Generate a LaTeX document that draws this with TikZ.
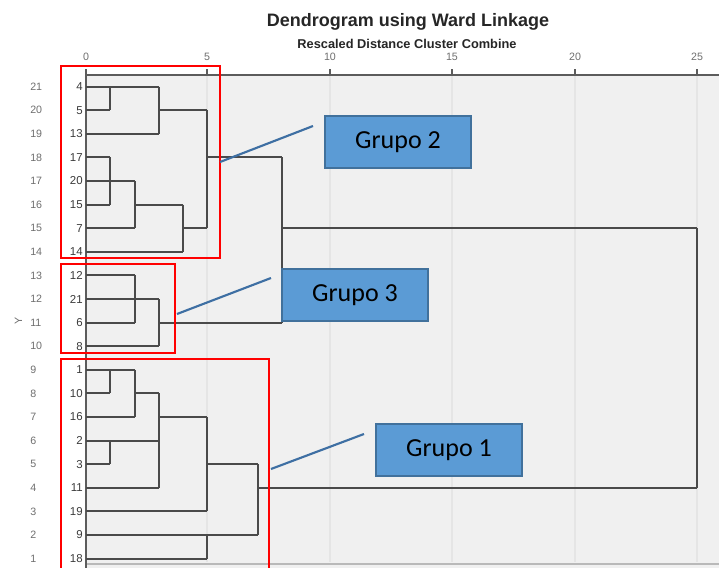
\documentclass[tikz,border=0pt]{standalone}
\usepackage{fontspec}
\setmainfont{Liberation Sans}
\newfontfamily\calib{Carlito}
\usepackage{graphicx}
\definecolor{plotbg}{HTML}{F0F0F0}
\definecolor{dline}{HTML}{4A4A4A}
\definecolor{gridc}{HTML}{E5E5E5}
\definecolor{boxfill}{HTML}{5B9BD5}
\definecolor{boxedge}{HTML}{41719C}
\definecolor{calloutc}{HTML}{3E6FA3}
\definecolor{lab}{HTML}{6E6E6E}
\definecolor{casec}{HTML}{3A3A3A}
% row positions (pixel units, top to bottom)
\def\R#1{86.6+23.6*#1}
\begin{document}
\begin{tikzpicture}[x=0.75pt,y=-0.75pt,
  dend/.style={draw=dline, line width=1.4pt},
  axisline/.style={draw=dline!90, line width=1.1pt},
  gridline/.style={draw=gridc, line width=0.8pt},
  groupbox/.style={draw=red, line width=1.7pt},
  callout/.style={draw=calloutc, line width=1.6pt},
  tag/.style={draw=boxedge, fill=boxfill, line width=1.1pt,
    minimum width=109.5pt, minimum height=39pt, inner sep=0pt,
    font=\calib\fontsize{19.5}{22}\selectfont},
  rowno/.style={text=lab, inner sep=0pt, font=\fontsize{8}{9}\selectfont},
  caselab/.style={anchor=east, text=casec, inner sep=0pt, font=\fontsize{8.6}{9}\selectfont},
  ticklab/.style={text=lab, inner sep=0pt, font=\fontsize{8}{9}\selectfont}]
\useasboundingbox (0,0) rectangle (719,568);

% plot area
\fill[plotbg] (86,75) rectangle (719,568);
\foreach \x in {207,330,452,575,697}
  \draw[gridline] (\x,76) -- (\x,562);
\draw[draw=gray!55, line width=0.8pt] (86,564) -- (719,564);

% titles
\node[text=black!85, font=\bfseries\fontsize{13.5}{16}\selectfont] (title) at (408,22) {Dendrogram using Ward Linkage};
\node[text=black!85, font=\bfseries\fontsize{9.6}{11}\selectfont] (subtitle) at (407,44) {Rescaled Distance Cluster Combine};

% distance axis
\draw[axisline] (86,75) -- (719,75);
\draw[axisline] (86,75) -- (86,568);
\foreach \v/\x in {0/86,5/207,10/330,15/452,20/575,25/697} {
  \node[ticklab] (t\v) at (\x,57) {\v};
  \draw[axisline] (\x,69) -- (\x,75);
}

% row numbers and case labels
\foreach \c [count=\i from 0] in {4,5,13,17,20,15,7,14,12,21,6,8,1,10,16,2,3,11,19,9,18} {
  \pgfmathtruncatemacro\rn{21-\i}
  \node[rowno, anchor=west] (r\rn) at (30,{\R{\i}}) {\rn};
  \node[caselab] (c\c) at (83,{\R{\i}}) {\c};
}
\node[rowno, rotate=90] (ylab) at (18.5,321) {Y};

% leaves
\foreach \r/\x in {0/159,1/110,2/159,3/110,4/135,5/110,6/135,7/183,8/135,9/159,10/135,
                   11/159,12/135,13/110,14/135,15/159,16/110,17/159,18/207,19/258,20/207}
  \draw[dend] (86,{\R{\r}}) -- (\x,{\R{\r}});
% joins
\foreach \x/\a/\b in {110/0/1,159/0/2,110/3/5,135/4/6,183/5/7,207/1/6,135/8/10,159/9/11,
                      282/3/10,110/12/13,135/12/14,110/15/16,159/13/17,207/14/18,258/16/19,
                      207/19/20,697/6/17}
  \draw[dend] (\x,{\R{\a}}) -- (\x,{\R{\b}});
\foreach \r/\a/\b in {1/159/207,5/135/183,6/183/207,3/207/282,10/159/282,6/282/697,
                      13/135/159,14/159/207,16/207/258,17/258/697}
  \draw[dend] (\a,{\R{\r}}) -- (\b,{\R{\r}});

% group frames
\draw[groupbox] (61,66) rectangle (220,258);
\draw[groupbox] (61,264) rectangle (175,353);
\draw[groupbox] (61,575) -- (61,359) -- (269,359) -- (269,575);

% callouts
\coordinate (g2a) at (220,162);
\coordinate (g2b) at (313,126);
\coordinate (g3a) at (177,314);
\coordinate (g3b) at (271,278);
\coordinate (g1a) at (271,469);
\coordinate (g1b) at (364,434);
\draw[callout] (g2a) -- (g2b);
\draw[callout] (g3a) -- (g3b);
\draw[callout] (g1a) -- (g1b);

\node[tag] (grupo2) at (398,142) {Grupo 2};
\node[tag] (grupo3) at (355,295) {Grupo 3};
\node[tag] (grupo1) at (449,450) {Grupo 1};
\end{tikzpicture}
\end{document}
